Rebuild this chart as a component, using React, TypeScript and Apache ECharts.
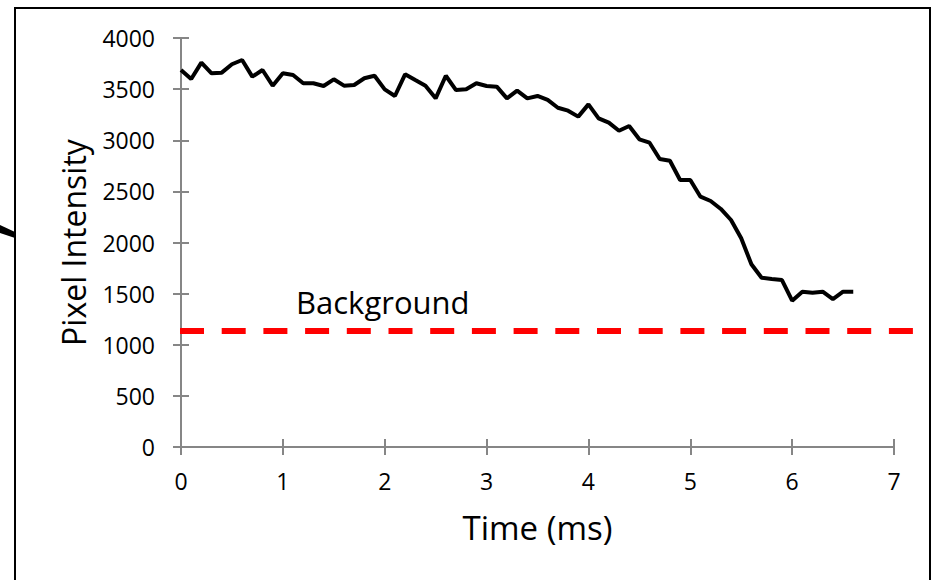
import React, { useEffect, useRef } from "react";
import * as echarts from "echarts";

const timeStart = 0;
const timeStep = 0.1;
const intensity = [
  3687, 3599, 3759, 3655, 3661, 3743, 3785, 3622, 3687, 3534,
  3655, 3638, 3557, 3557, 3531, 3596, 3534, 3540, 3606, 3631,
  3498, 3433, 3645, 3589, 3534, 3410, 3631, 3491, 3498, 3557,
  3531, 3524, 3410, 3485, 3410, 3433, 3394, 3318, 3289, 3231,
  3351, 3214, 3172, 3093, 3139, 3009, 2976, 2817, 2800, 2611,
  2611, 2448, 2406, 2328, 2220, 2041, 1787, 1656, 1643, 1633,
  1431, 1519, 1509, 1519, 1447, 1519, 1519,
];
const backgroundLevel = 1134;
const backgroundSpan = [0, 7.23];
const backgroundLabel = "Background";
const xTitle = "Time (ms)";
const yTitle = "Pixel Intensity";

const FONT = "'Open Sans', sans-serif";
const AXIS_GRAY = "#868686";

export default function App() {
  const ref = useRef<HTMLDivElement>(null);
  useEffect(() => {
    if (!ref.current) return;
    const chart = echarts.init(ref.current, null, { renderer: "svg" });
    const lineData = intensity.map((v, i) => [
      +(timeStart + i * timeStep).toFixed(2),
      v,
    ]);

    const axisLineStyle = { color: AXIS_GRAY, width: 2 };
    chart.setOption({
      animation: false,
      backgroundColor: "#ffffff",
      grid: { left: 181, right: 38, top: 38, bottom: 133, containLabel: false },
      xAxis: [
        {
          type: "value",
          min: 0,
          max: 7,
          interval: 1,
          name: xTitle,
          nameLocation: "middle",
          nameGap: 64,
          nameTextStyle: { fontFamily: FONT, fontSize: 33, color: "#000" },
          axisLine: { show: true, onZero: false, lineStyle: axisLineStyle },
          axisTick: { show: true, inside: false, length: 8, lineStyle: axisLineStyle },
          axisLabel: { fontFamily: FONT, fontSize: 23, color: "#000", margin: 22 },
          splitLine: { show: false },
        },
        {
          type: "value",
          position: "bottom",
          min: 0,
          max: 7,
          interval: 1,
          axisLine: { show: false },
          axisTick: { show: true, inside: true, length: 8, lineStyle: axisLineStyle },
          axisLabel: { show: false },
          splitLine: { show: false },
        },
      ],
      yAxis: [
        {
          type: "value",
          min: 0,
          max: 4000,
          interval: 500,
          name: yTitle,
          nameLocation: "middle",
          nameGap: 92,
          nameTextStyle: { fontFamily: FONT, fontSize: 32, color: "#000" },
          axisLine: { show: true, onZero: false, lineStyle: axisLineStyle },
          axisTick: { show: true, inside: false, length: 8, lineStyle: axisLineStyle },
          axisLabel: {
            fontFamily: FONT,
            fontSize: 23,
            color: "#000",
            margin: 26,
            formatter: (v: number) => String(v),
          },
          splitLine: { show: false },
        },
        {
          type: "value",
          position: "left",
          min: 0,
          max: 4000,
          interval: 500,
          axisLine: { show: false },
          axisTick: { show: true, inside: true, length: 8, lineStyle: axisLineStyle },
          axisLabel: { show: false },
          splitLine: { show: false },
        },
      ],
      series: [
        {
          type: "line",
          name: yTitle,
          data: lineData,
          symbol: "none",
          lineStyle: { color: "#000000", width: 4 },
          z: 3,
        },
      ],
    });

    const p0 = chart.convertToPixel({ xAxisIndex: 0, yAxisIndex: 0 }, [
      backgroundSpan[0],
      backgroundLevel,
    ]) as number[];
    const p1 = chart.convertToPixel({ xAxisIndex: 0, yAxisIndex: 0 }, [
      backgroundSpan[1],
      backgroundLevel,
    ]) as number[];

    chart.setOption({
      graphic: [
        {
          type: "rect",
          shape: { x: 15, y: 8, width: 915, height: 600 },
          style: { fill: "none", stroke: "#000", lineWidth: 2 },
          silent: true,
        },
        {
          type: "polygon",
          shape: { points: [[0, 225], [15, 232], [15, 238], [0, 233]] },
          style: { fill: "#000" },
          silent: true,
        },
        {
          type: "line",
          shape: { x1: p0[0] - 1, y1: p0[1], x2: p1[0], y2: p1[1] },
          style: { stroke: "#ff0000", lineWidth: 6, lineDash: [24, 17.7] },
          silent: true,
          z: 2,
        },
        {
          type: "text",
          x: 296,
          y: 302,
          style: {
            text: backgroundLabel,
            fontFamily: FONT,
            fontSize: 31,
            fill: "#000",
            verticalAlign: "middle",
          },
        },
      ],
    });
    return () => chart.dispose();
  }, []);
  return (
    <div
      ref={ref}
      style={{ position: "fixed", left: 0, top: 0, width: 932, height: 580 }}
    />
  );
}
